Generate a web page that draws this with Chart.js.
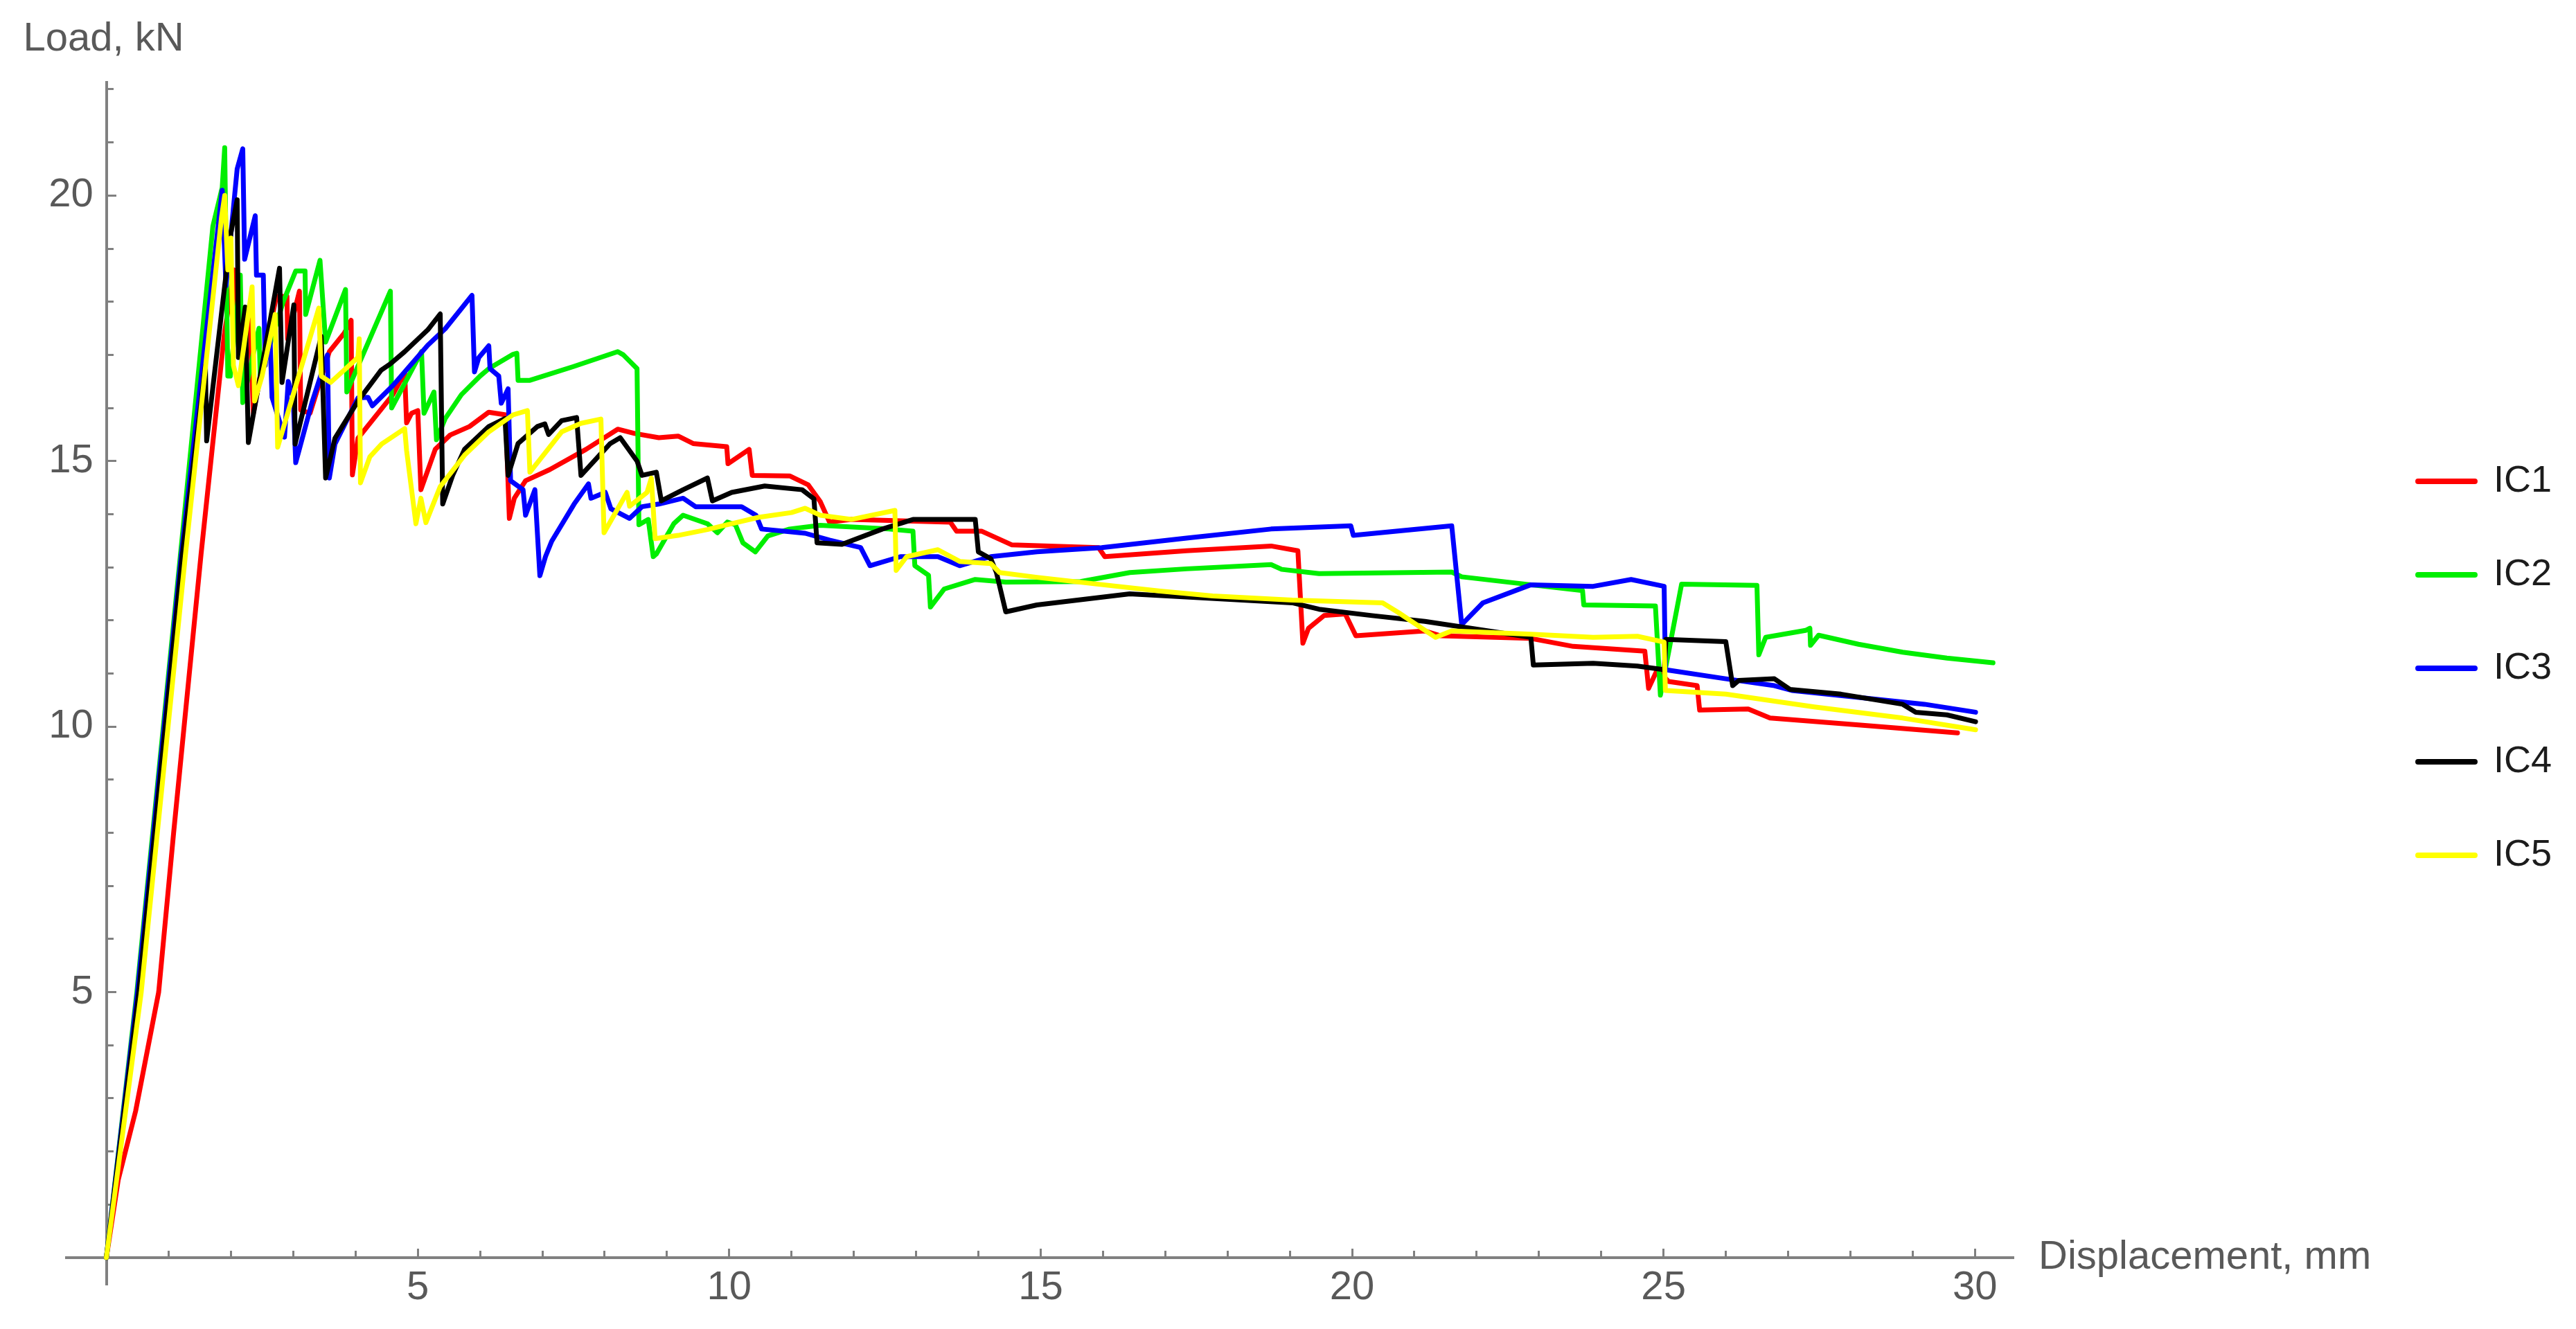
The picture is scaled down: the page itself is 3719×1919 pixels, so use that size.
<!DOCTYPE html>
<html>
<head>
<meta charset="utf-8">
<script src="https://cdn.jsdelivr.net/npm/chart.js@4/dist/chart.umd.min.js"></script>
<style>
html,body{margin:0;padding:0;background:#ffffff;overflow:hidden}
#wrap{width:3719px;height:1919px;position:relative;background:#ffffff}
</style>
</head>
<body>
<div id="wrap"><canvas id="c" width="3719" height="1919"></canvas></div>
<script>
// ---------- data (displacement mm, load kN) ----------
const seriesNames = ['IC1', 'IC2', 'IC3', 'IC4', 'IC5'];

const ic1 = [[0,0],[0.19,1.46],[0.47,2.76],[0.84,5.0],[1.08,8.0],[1.52,13.24],[1.89,17.35],[2.05,18.6],[2.1,17.8],[2.2,17.6],[2.3,17.8],[2.36,15.9],[2.5,16.8],[2.73,18.1],[2.9,18.1],[2.91,17.3],[3.1,18.2],[3.12,15.96],[3.27,15.9],[3.58,17.06],[3.82,17.41],[3.93,17.65],[3.95,14.74],[4.04,15.43],[4.6,16.25],[4.79,16.66],[4.82,15.72],[4.9,15.9],[5.0,15.95],[5.05,14.46],[5.28,15.22],[5.52,15.49],[5.83,15.65],[6.14,15.92],[6.41,15.87],[6.47,13.92],[6.55,14.3],[6.73,14.63],[7.12,14.84],[7.7,15.22],[8.21,15.6],[8.48,15.52],[8.87,15.44],[9.18,15.47],[9.42,15.33],[9.96,15.27],[9.98,14.95],[10.32,15.22],[10.37,14.73],[10.97,14.72],[11.27,14.55],[11.46,14.24],[11.61,13.85],[11.96,13.9],[13.55,13.85],[13.65,13.68],[14.05,13.68],[14.54,13.42],[15.93,13.37],[16.03,13.2],[17.34,13.31],[18.7,13.4],[19.13,13.31],[19.21,11.57],[19.3,11.85],[19.55,12.09],[19.89,12.12],[20.06,11.71],[21.17,11.8],[21.42,11.71],[22.87,11.66],[23.55,11.51],[24.7,11.42],[24.76,10.72],[24.9,11.07],[25.08,10.85],[25.54,10.77],[25.58,10.31],[26.36,10.33],[26.71,10.16],[28.13,10.03],[29.72,9.88]];

const ic2 = [[0,0],[0.49,5.0],[1.19,13.24],[1.71,19.42],[1.86,20.15],[1.9,20.9],[1.93,18.2],[1.95,16.6],[1.99,16.6],[2.15,18.5],[2.19,16.1],[2.45,17.5],[2.47,16.6],[2.84,18.0],[3.04,18.58],[3.19,18.58],[3.2,17.76],[3.43,18.78],[3.52,17.24],[3.84,18.23],[3.86,16.3],[4.56,18.2],[4.58,16.0],[5.06,17.06],[5.1,15.9],[5.26,16.3],[5.3,15.4],[5.44,15.8],[5.7,16.25],[6.0,16.6],[6.14,16.74],[6.53,17.01],[6.59,17.03],[6.61,16.52],[6.8,16.52],[7.5,16.78],[8.21,17.06],[8.3,17.0],[8.52,16.74],[8.55,13.8],[8.7,13.9],[8.78,13.2],[8.83,13.25],[9.11,13.82],[9.26,13.98],[9.65,13.82],[9.81,13.65],[9.97,13.85],[10.1,13.8],[10.22,13.46],[10.42,13.29],[10.62,13.59],[10.97,13.72],[11.46,13.79],[12.56,13.72],[12.95,13.68],[12.98,13.03],[13.2,12.85],[13.23,12.25],[13.45,12.59],[13.95,12.77],[14.44,12.72],[15.64,12.73],[16.43,12.9],[17.34,12.97],[18.7,13.05],[18.87,12.96],[19.47,12.88],[21.6,12.91],[21.76,12.82],[22.87,12.67],[23.7,12.56],[23.72,12.29],[24.87,12.27],[24.95,10.59],[25.29,12.68],[26.5,12.66],[26.53,11.35],[26.64,11.68],[27.28,11.81],[27.35,11.85],[27.36,11.53],[27.49,11.72],[28.13,11.55],[28.84,11.4],[29.55,11.29],[30.29,11.2]];

const ic3 = [[0,0],[0.5,5.0],[1.2,13.2],[1.86,20.1],[1.92,18.3],[2.1,20.5],[2.19,20.88],[2.22,18.8],[2.39,19.62],[2.41,18.5],[2.52,18.5],[2.55,16.8],[2.62,17.6],[2.66,16.2],[2.86,15.45],[2.92,16.5],[3.0,16.2],[3.04,14.97],[3.3,16.1],[3.55,17.0],[3.58,14.68],[3.67,15.32],[4.04,16.19],[4.2,16.2],[4.27,16.04],[4.6,16.42],[5.16,17.18],[5.44,17.49],[5.87,18.12],[5.91,16.68],[5.98,16.95],[6.14,17.17],[6.16,16.74],[6.3,16.6],[6.34,16.09],[6.45,16.36],[6.49,14.63],[6.69,14.46],[6.73,13.98],[6.88,14.46],[6.96,12.84],[7.05,13.2],[7.15,13.49],[7.51,14.19],[7.74,14.57],[7.78,14.3],[8.01,14.41],[8.1,14.1],[8.4,13.92],[8.6,14.14],[8.87,14.19],[9.26,14.3],[9.46,14.14],[10.2,14.14],[10.43,13.98],[10.52,13.72],[11.22,13.64],[11.61,13.51],[12.11,13.37],[12.26,13.03],[12.75,13.2],[13.35,13.2],[13.7,13.03],[14.2,13.2],[14.94,13.29],[15.98,13.37],[17.34,13.55],[18.7,13.72],[19.98,13.78],[20.02,13.6],[21.6,13.78],[21.76,11.92],[22.1,12.33],[22.87,12.67],[23.87,12.64],[24.48,12.77],[25.01,12.64],[25.03,11.07],[26.0,10.9],[26.78,10.77],[27.06,10.68],[28.13,10.55],[29.19,10.42],[30.01,10.27]];

const ic4 = [[0,0],[0.52,5.0],[1.22,13.24],[1.59,16.8],[1.61,15.38],[1.89,18.2],[2.0,19.3],[2.1,19.92],[2.12,16.95],[2.23,17.9],[2.28,15.35],[2.78,18.63],[2.82,16.48],[3.01,17.94],[3.03,15.32],[3.45,17.35],[3.52,14.68],[3.67,15.43],[4.04,16.13],[4.41,16.71],[4.56,16.83],[4.79,17.06],[5.16,17.47],[5.36,17.77],[5.4,14.19],[5.56,14.73],[5.75,15.22],[6.14,15.65],[6.4,15.8],[6.45,14.73],[6.61,15.33],[6.92,15.65],[7.04,15.7],[7.1,15.5],[7.31,15.76],[7.55,15.82],[7.62,14.73],[8.09,15.33],[8.25,15.44],[8.52,15.0],[8.6,14.73],[8.83,14.79],[8.91,14.25],[9.26,14.46],[9.65,14.68],[9.73,14.25],[10.04,14.41],[10.57,14.53],[11.17,14.46],[11.36,14.29],[11.41,13.46],[11.81,13.43],[12.46,13.72],[12.95,13.9],[13.95,13.9],[14.0,13.29],[14.2,13.16],[14.29,12.9],[14.44,12.16],[14.94,12.29],[16.43,12.5],[17.34,12.44],[19.04,12.33],[19.47,12.21],[20.32,12.09],[21.17,11.98],[22.87,11.68],[22.91,11.16],[23.87,11.19],[24.58,11.14],[25.01,11.07],[25.04,11.64],[26.0,11.6],[26.11,10.77],[26.21,10.87],[26.78,10.9],[27.03,10.7],[27.85,10.61],[28.84,10.42],[29.05,10.27],[29.55,10.22],[30.01,10.09]];

const ic5 = [[0,0],[0.56,5.0],[1.27,13.24],[1.85,19.6],[1.9,20.0],[1.95,18.6],[2.0,19.2],[2.04,16.8],[2.12,16.42],[2.34,18.28],[2.38,16.13],[2.5,16.6],[2.71,17.76],[2.75,15.26],[3.41,17.88],[3.45,16.6],[3.6,16.48],[4.04,16.95],[4.06,17.3],[4.08,14.59],[4.23,15.08],[4.42,15.32],[4.79,15.61],[4.82,15.2],[4.97,13.82],[5.05,14.3],[5.13,13.84],[5.36,14.52],[5.75,15.11],[6.14,15.55],[6.53,15.87],[6.76,15.95],[6.8,14.79],[7.31,15.55],[7.62,15.71],[7.94,15.79],[7.99,13.65],[8.36,14.41],[8.4,14.15],[8.68,14.41],[8.75,14.68],[8.81,13.54],[9.18,13.6],[9.65,13.71],[10.04,13.82],[10.47,13.94],[11.0,14.03],[11.22,14.11],[11.46,13.98],[11.96,13.9],[12.66,14.07],[12.68,12.94],[12.85,13.2],[13.35,13.33],[13.7,13.11],[14.2,13.07],[14.34,12.9],[14.94,12.81],[15.93,12.68],[16.92,12.55],[17.76,12.46],[19.04,12.38],[20.49,12.33],[20.74,12.15],[21.34,11.68],[21.6,11.8],[22.87,11.74],[23.87,11.68],[24.58,11.7],[25.01,11.59],[25.03,10.68],[26.0,10.61],[27.42,10.37],[28.84,10.16],[30.01,9.94]];

const xTitle = 'Displacement, mm';
const yTitle = 'Load, kN';
const majorStep = 5;
const minorStep = 1;

// ---------- styles ----------
const seriesColors = ['#ff0000', '#00ee00', '#0000ff', '#000000', '#ffff00'];
const FONT = '"Liberation Sans", Arial, Helvetica, sans-serif';
const AXIS_COLOR = '#808080';
const TEXT_COLOR = '#595959';
const X_MIN = -0.64, X_MAX = 30.62;
const Y_MIN = -0.51, Y_MAX = 22.13;
const Y_LABEL_EDGE = -0.21;   // x value where the y tick labels end (right aligned)
const RIGHT_RESERVE = 787;

Chart.defaults.font.family = FONT;

const allSeries = [ic1, ic2, ic3, ic4, ic5];
const datasets = allSeries.map((s, i) => ({
  label: seriesNames[i],
  data: s.map(p => ({x: p[0], y: p[1]})),
  borderColor: seriesColors[i],
  backgroundColor: seriesColors[i],
  borderWidth: 7,
  pointRadius: 0,
  pointHoverRadius: 0,
  tension: 0,
  fill: false,
  borderJoinStyle: 'round',
  borderCapStyle: 'round',
  xAxisID: 'x',
  yAxisID: 'y',
  order: allSeries.length - i
}));

// tick values at every multiple of `step` inside the scale range (0 omitted: the axes cross there)
const stepTicks = (step) => (scale) => {
  const out = [];
  const start = Math.ceil(scale.min / step) * step;
  for (let v = start; v <= scale.max + 1e-9; v += step) {
    const r = Math.round(v * 1000) / 1000;
    if (r !== 0) out.push({value: r});
  }
  scale.ticks = out;
};

const axisTitles = {
  id: 'axisTitles',
  afterDraw(chart) {
    const {ctx} = chart;
    const xs = chart.scales.x, ys = chart.scales.y;
    ctx.save();
    ctx.font = '58px ' + FONT;
    ctx.fillStyle = TEXT_COLOR;
    ctx.textAlign = 'left';
    ctx.textBaseline = 'alphabetic';
    ctx.fillText(yTitle, xs.getPixelForValue(0) - 120, ys.top - 46);
    ctx.textBaseline = 'middle';
    ctx.fillText(xTitle, xs.right + 36, ys.getPixelForValue(0));
    ctx.restore();
  }
};

new Chart(document.getElementById('c'), {
  type: 'line',
  data: {datasets},
  plugins: [axisTitles],
  options: {
    responsive: false,
    devicePixelRatio: 1,
    animation: false,
    events: [],
    layout: {padding: {left: 96, top: 119, right: 25, bottom: 64}},
    plugins: {
      tooltip: {enabled: false},
      title: {display: false},
      legend: {
        position: 'right',
        align: 'start',
        title: {display: true, text: ' ', font: {size: 10}, padding: {top: 0, bottom: 456}},
        labels: {
          usePointStyle: true,
          pointStyle: 'line',
          pointStyleWidth: 82,
          padding: 81,
          color: '#1c1c1c',
          font: {family: FONT, size: 54},
          sort: (a, b) => a.datasetIndex - b.datasetIndex,
          generateLabels: (chart) => Chart.defaults.plugins.legend.labels.generateLabels(chart)
            .map(it => Object.assign(it, {lineWidth: 8, lineCap: 'round'}))
        }
      }
    },
    scales: {
      x: {
        type: 'linear', position: {y: 0}, min: X_MIN, max: X_MAX,
        afterBuildTicks: stepTicks(majorStep),
        afterFit: (s) => { s.height = 0; },
        ticks: {autoSkip: false, maxRotation: 0, minRotation: 0, padding: 24, color: TEXT_COLOR, font: {family: FONT, size: 58}},
        grid: {display: true, drawOnChartArea: false, drawTicks: true, tickLength: -15, tickWidth: 3, tickColor: AXIS_COLOR},
        border: {display: true, color: AXIS_COLOR, width: 4}
      },
      xMinor: {
        type: 'linear', position: {y: 0}, min: X_MIN, max: X_MAX,
        afterBuildTicks: stepTicks(minorStep),
        afterFit: (s) => { s.height = 0; },
        ticks: {autoSkip: false, display: false},
        grid: {display: true, drawOnChartArea: false, drawTicks: true, tickLength: -10, tickWidth: 3, tickColor: AXIS_COLOR},
        border: {display: false}
      },
      y: {
        type: 'linear', position: {x: 0}, min: Y_MIN, max: Y_MAX,
        afterBuildTicks: stepTicks(majorStep),
        afterFit: (s) => { s.width = 0; },
        ticks: {autoSkip: false, display: false},
        grid: {display: true, drawOnChartArea: false, drawTicks: true, tickLength: -16, tickWidth: 3, tickColor: AXIS_COLOR},
        border: {display: true, color: AXIS_COLOR, width: 4}
      },
      yMinor: {
        type: 'linear', position: {x: 0}, min: Y_MIN, max: Y_MAX,
        afterBuildTicks: stepTicks(minorStep),
        afterFit: (s) => { s.width = 0; },
        ticks: {autoSkip: false, display: false},
        grid: {display: true, drawOnChartArea: false, drawTicks: true, tickLength: -10, tickWidth: 3, tickColor: AXIS_COLOR},
        border: {display: false}
      },
      yLabels: {
        type: 'linear', position: {x: Y_LABEL_EDGE}, min: Y_MIN, max: Y_MAX,
        afterBuildTicks: stepTicks(majorStep),
        afterFit: (s) => { s.width = 0; },
        ticks: {autoSkip: false, padding: 0, color: TEXT_COLOR, font: {family: FONT, size: 58}},
        grid: {display: true, drawOnChartArea: false, drawTicks: false, tickLength: 0, lineWidth: 0, color: 'rgba(0,0,0,0)'},
        border: {display: false}
      },
      pad: {
        type: 'linear', position: 'right', display: true,
        ticks: {display: false},
        grid: {display: false, drawTicks: false},
        border: {display: false},
        afterFit: (s) => { s.width = Math.max(0, RIGHT_RESERVE - (s.chart.legend ? s.chart.legend.width : 0)); }
      }
    }
  }
});
</script>
</body>
</html>
